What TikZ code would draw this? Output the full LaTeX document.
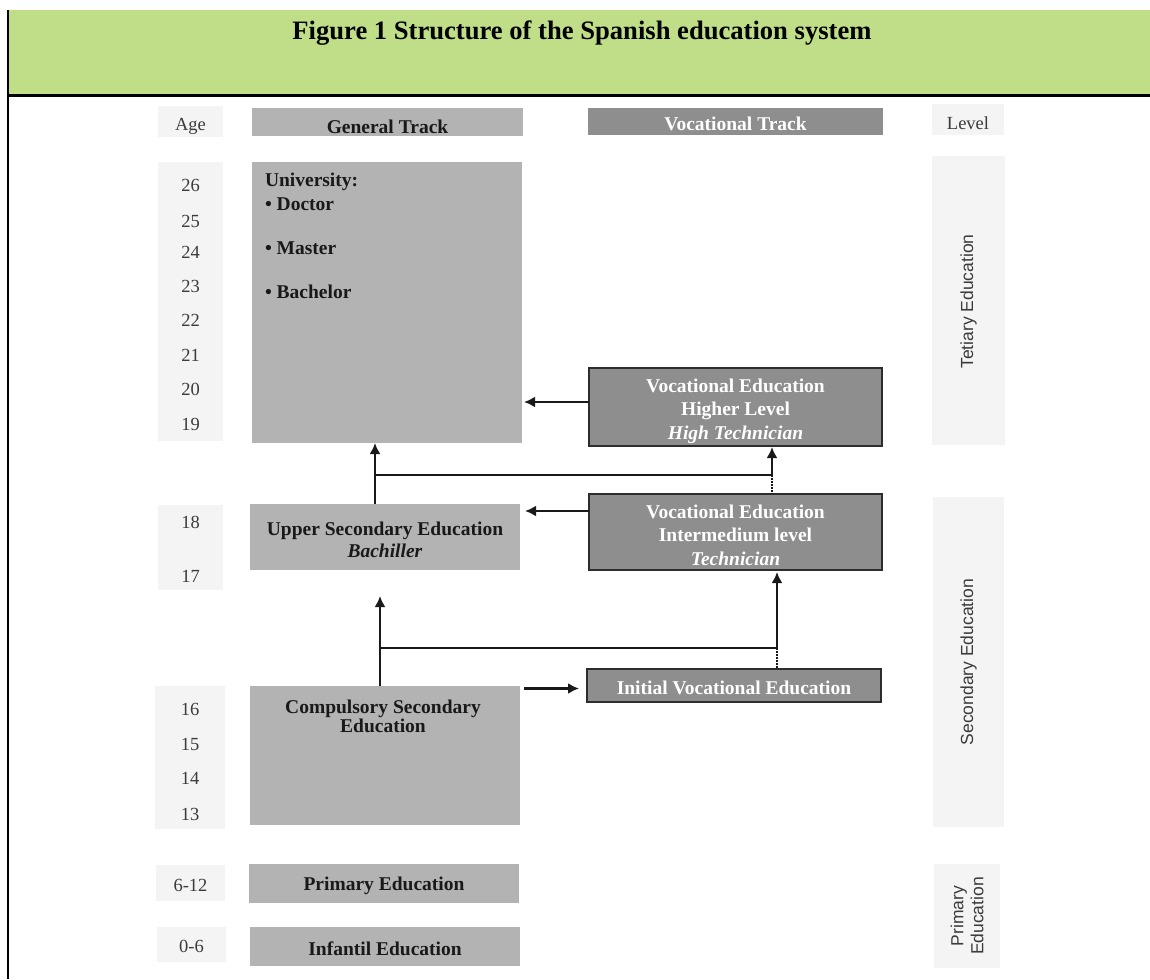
\documentclass[tikz,border=0pt]{standalone}
\usepackage{fontspec}
\setmainfont{Liberation Serif}
\newfontfamily\levelfont{Liberation Sans}
\usetikzlibrary{arrows.meta}
\definecolor{headgreen}{RGB}{192,222,136}
\definecolor{pale}{RGB}{244,244,244}
\definecolor{midgray}{RGB}{179,179,179}
\definecolor{darkgray}{RGB}{142,142,142}
\definecolor{edge}{RGB}{45,45,45}
\definecolor{ink}{RGB}{25,25,25}
\begin{document}
\begin{tikzpicture}[x=1pt,y=-1pt,
  every node/.style={inner sep=0pt, outer sep=0pt},
  agecell/.style={fill=pale},
  agenum/.style={font=\fontsize{18.5}{20}\selectfont, text=ink!85},
  general/.style={fill=midgray},
  gentext/.style={text=ink, font=\fontsize{19.5}{22}\selectfont\bfseries, align=center},
  vocational/.style={fill=darkgray, draw=edge, line width=2pt},
  voctext/.style={text=white, font=\fontsize{19.5}{23.5}\selectfont\bfseries, align=center},
  levelcell/.style={fill=pale},
  leveltxt/.style={font=\levelfont\fontsize{17.5}{20}\selectfont, rotate=90, text=ink!85, align=center},
  arr/.style={draw=ink, line width=2.2pt, -{Latex[length=11pt,width=11pt]}},
  link/.style={draw=ink, line width=2.2pt},
  dotlink/.style={draw=ink, line width=1.8pt, dash pattern=on 1.5pt off 1.5pt},
]
\useasboundingbox (0,0) rectangle (1150,979);

% heading band
\fill[headgreen] (8,10) rectangle (1150,95);
\node[font=\fontsize{26.6}{30}\selectfont\bfseries] (title) at (582,33) {Figure 1 Structure of the Spanish education system};
\draw[line width=3pt] (8,95.5) -- (1150,95.5);
\draw[line width=2.5pt] (8,10) -- (8,979);

% column headings
\node[agecell, minimum width=65pt, minimum height=31pt] (ageH) at (190.5,121.5) {};
\node[agenum] (ageHt) at (190.5,126) {Age};
\node[general, minimum width=271pt, minimum height=28pt] (genH) at (387.5,122) {};
\node[gentext] (genHt) at (387.5,127) {General Track};
\node[fill=darkgray, minimum width=295pt, minimum height=27pt] (vocH) at (735.5,121.5) {};
\node[voctext] (vocHt) at (735.5,124) {Vocational Track};
\node[levelcell, minimum width=72pt, minimum height=31pt] (lvlH) at (968,119.5) {};
\node[agenum] (lvlHt) at (968,123) {Level};

% tertiary block
\node[agecell, minimum width=65pt, minimum height=279pt] (ageT) at (190.5,301.5) {};
\foreach \a/\y in {26/185,25/221,24/252,23/286,22/320,21/355,20/389,19/424}
  \node[agenum] (age\a) at (190.5,\y) {\a};
\node[general, minimum width=270pt, minimum height=281pt] (uni) at (387,302.5) {};
\node[anchor=west, gentext] (uniT) at (265,182) {University:};
\node[anchor=west, gentext] (uniD) at (265,204) {\textbullet\ Doctor};
\node[anchor=west, gentext] (uniM) at (265,248) {\textbullet\ Master};
\node[anchor=west, gentext] (uniB) at (265,292) {\textbullet\ Bachelor};
\node[levelcell, minimum width=73pt, minimum height=289pt] (lvlT) at (968.5,300.5) {};
\node[leveltxt] (lvlTt) at (968.5,301.5) {Tetiary Education};
\node[vocational, minimum width=293pt, minimum height=78pt] (veHi) at (735.5,407) {};
\node[voctext] (veHiT) at (735.5,411) {Vocational Education\\Higher Level\\\textit{High Technician}};

% secondary block
\node[agecell, minimum width=65pt, minimum height=85pt] (ageS) at (190.5,547.5) {};
\node[agenum] (age18) at (190.5,522) {18};
\node[agenum] (age17) at (190.5,576) {17};
\node[general, minimum width=270pt, minimum height=66pt] (upper) at (385,537) {};
\node[gentext] (upperT) at (385,540) {Upper Secondary Education\\\textit{Bachiller}};
\node[vocational, minimum width=293pt, minimum height=76pt] (veMid) at (735.5,532) {};
\node[voctext] (veMidT) at (735.5,535) {Vocational Education\\Intermedium level\\\textit{Technician}};
\node[levelcell, minimum width=71pt, minimum height=330pt] (lvlS) at (968.5,662) {};
\node[leveltxt] (lvlSt) at (968.5,662) {Secondary Education};

\node[agecell, minimum width=70pt, minimum height=143pt] (ageC) at (190,757.5) {};
\foreach \a/\y in {16/709,15/744,14/778,13/814}
  \node[agenum] (age\a) at (190,\y) {\a};
\node[general, minimum width=270pt, minimum height=139pt] (comp) at (385,755.5) {};
\node[gentext, font=\fontsize{19.5}{19}\selectfont\bfseries] (compT) at (383,716)
  {Compulsory Secondary\\Education};
\node[vocational, minimum width=294pt, minimum height=33pt] (iniVE) at (734,685.5) {};
\node[voctext] (iniVEt) at (734,687.5) {Initial Vocational Education};

% primary and infant rows
\node[agecell, minimum width=69pt, minimum height=36pt] (agePr) at (190.5,883) {};
\node[agenum] (agePrt) at (190.5,885) {6-12};
\node[general, minimum width=270pt, minimum height=39pt] (prim) at (384,883.5) {};
\node[gentext] (primT) at (384,885.5) {Primary Education};
\node[agecell, minimum width=69pt, minimum height=35pt] (ageIn) at (191.5,944.5) {};
\node[agenum] (ageInt) at (191.5,946) {0-6};
\node[general, minimum width=270pt, minimum height=39pt] (inf) at (385,946.5) {};
\node[gentext] (infT) at (385,948.5) {Infantil Education};
\node[levelcell, minimum width=66pt, minimum height=104pt] (lvlP) at (967,916) {};
\node[leveltxt] (lvlPt) at (967,916) {Primary\\Education};

% pathways
\draw[arr, shorten >=2pt] ([yshift=5pt]veHi.west) -- ([yshift=5pt]veHi.west -| uni.east);
\draw[arr, shorten >=5pt] ([yshift=21pt]veMid.west) -- ([yshift=21pt]veMid.west -| upper.east);

\coordinate (hubA) at (375,475);
\coordinate (hubB) at (772,475);
\draw[arr] ([xshift=-10pt]upper.north) -- ([xshift=-10pt]upper.north |- uni.south);
\draw[link] (hubA) -- (hubB);
\draw[arr, shorten >=1pt] (hubB) -- (hubB |- veHi.south);
\draw[dotlink] (hubB) -- (hubB |- veMid.north);

\coordinate (hubC) at (380,648);
\coordinate (hubD) at (777,648);
\coordinate (gapTop) at (380,596);
\draw[arr] ([xshift=-5pt]comp.north) -- (gapTop);
\draw[link] (hubC) -- (hubD);
\draw[arr, shorten >=2pt] (hubD) -- (hubD |- veMid.south);
\draw[dotlink] (hubD) -- (hubD |- iniVE.north);

\draw[arr, shorten >=8pt] ([xshift=4pt,yshift=-2.5pt]comp.north east) -- ([yshift=-2.5pt]comp.north east -| iniVE.west);
\end{tikzpicture}
\end{document}
